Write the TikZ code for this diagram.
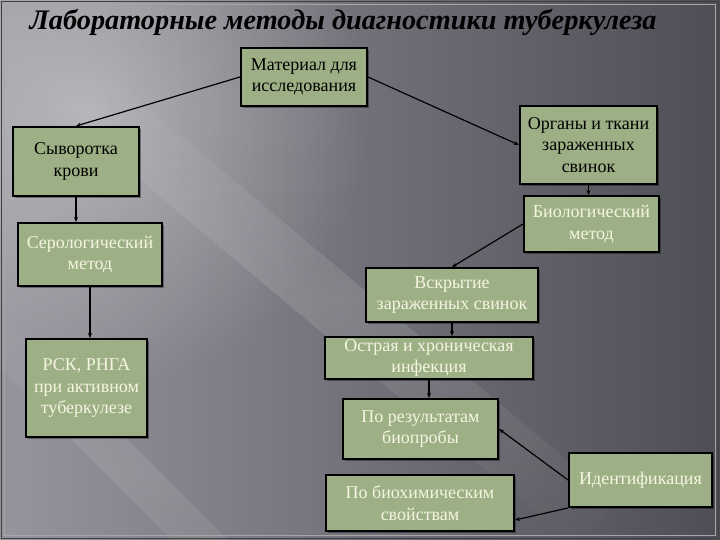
\documentclass[tikz,border=0pt]{standalone}
\usepackage{fontspec}
\setmainfont{Liberation Serif}
\usetikzlibrary{arrows.meta,shadows,fadings,calc}
\definecolor{boxg}{RGB}{157,175,133}
\definecolor{cream}{RGB}{245,245,225}
\definecolor{bgdark}{RGB}{78,78,86}
\definecolor{bgmid}{RGB}{100,99,107}
\definecolor{bgleft}{RGB}{150,148,156}
\tikzfading[name=fadeRad, inner color=transparent!0, outer color=transparent!100]
\tikzfading[name=fadeMid, top color=transparent!100, bottom color=transparent!100, middle color=transparent!0]
\begin{document}
\begin{tikzpicture}[x=1pt,y=-1pt,
  box/.style={draw=black, line width=2pt, fill=boxg, align=center, inner sep=1pt,
    font=\fontsize{18}{21.5}\selectfont,
    drop shadow={shadow xshift=2pt, shadow yshift=-2pt, opacity=0.35, fill=black}},
  dk/.style={text=black},
  lt/.style={text=cream},
  arr/.style={-{Stealth[length=5pt,width=4pt]}, line width=1.2pt, black}]
% background
\useasboundingbox (0,0) rectangle (720,540);
\shade[left color=bgleft, middle color=bgmid, right color=bgdark] (0,0) rectangle (720,540);
\begin{scope}
\clip (0,0) rectangle (720,540);
\fill[white, opacity=0.35, path fading=fadeRad] (90,110) circle [radius=280];
\fill[white, opacity=0.12, path fading=fadeMid, rotate around={-40:(330,300)}] (-20,270) rectangle (680,330);
\fill[white, opacity=0.10, path fading=fadeMid, rotate around={-45:(130,470)}] (-120,450) rectangle (380,490);
\end{scope}
\draw[black!75, line width=1.5pt] (1.5,1.5) rectangle (718.5,538.5);
\draw[black!35, line width=0.6pt] (4.5,4.5) rectangle (715.5,535.5);
% title
\node[font=\fontsize{28.3}{34}\selectfont\bfseries\itshape, text=black] (title) at (343,22) {Лабораторные методы диагностики туберкулеза};
% boxes
\node[box, dk, minimum width=126, minimum height=58] (mat) at (304,77) {Материал для\\исследования};
\node[box, dk, minimum width=126, minimum height=69] (syv) at (76,161.5) {Сыворотка\\крови};
\node[box, lt, minimum width=144, minimum height=63] (ser) at (90,254.5) {Серологический\\метод};
\node[box, lt, minimum width=121, minimum height=98] (rsk) at (86.5,388) {РСК, РНГА\\при активном\\туберкулезе};
\node[box, dk, minimum width=137, minimum height=78] (org) at (588.5,145) {Органы и ткани\\зараженных\\свинок};
\node[box, lt, minimum width=135, minimum height=56] (bio) at (591.5,224) {Биологический\\метод};
\node[box, lt, minimum width=172, minimum height=54] (vsk) at (452,295) {Вскрытие\\зараженных свинок};
\node[box, lt, minimum width=208, minimum height=42] (ost) at (429,358) {Острая и хроническая\\инфекция};
\node[box, lt, minimum width=155, minimum height=60] (res) at (420.5,429) {По результатам\\биопробы};
\node[box, lt, minimum width=188, minimum height=56] (bch) at (420,503) {По биохимическим\\свойствам};
\node[box, lt, minimum width=143, minimum height=54] (ide) at (640.5,480) {Идентификация};
% connectors
\draw[arr] (mat.west) -- (syv.north);
\draw[arr] (mat.east) -- (org.west);
\draw[arr] (syv.south) -- (syv.south |- ser.north);
\draw[arr] (ser.south) -- (ser.south |- rsk.north);
\draw[arr] (org.south) -- (org.south |- bio.north);
\draw[arr] (bio.west) -- (vsk.north);
\draw[arr] (vsk.south) -- (vsk.south |- ost.north);
\draw[arr] (ost.south) -- (ost.south |- res.north);
\draw[arr] (ide.west) -- (res.east);
\draw[arr] (ide.south west) -- ([yshift=-17pt]bch.east);
\end{tikzpicture}
\end{document}
